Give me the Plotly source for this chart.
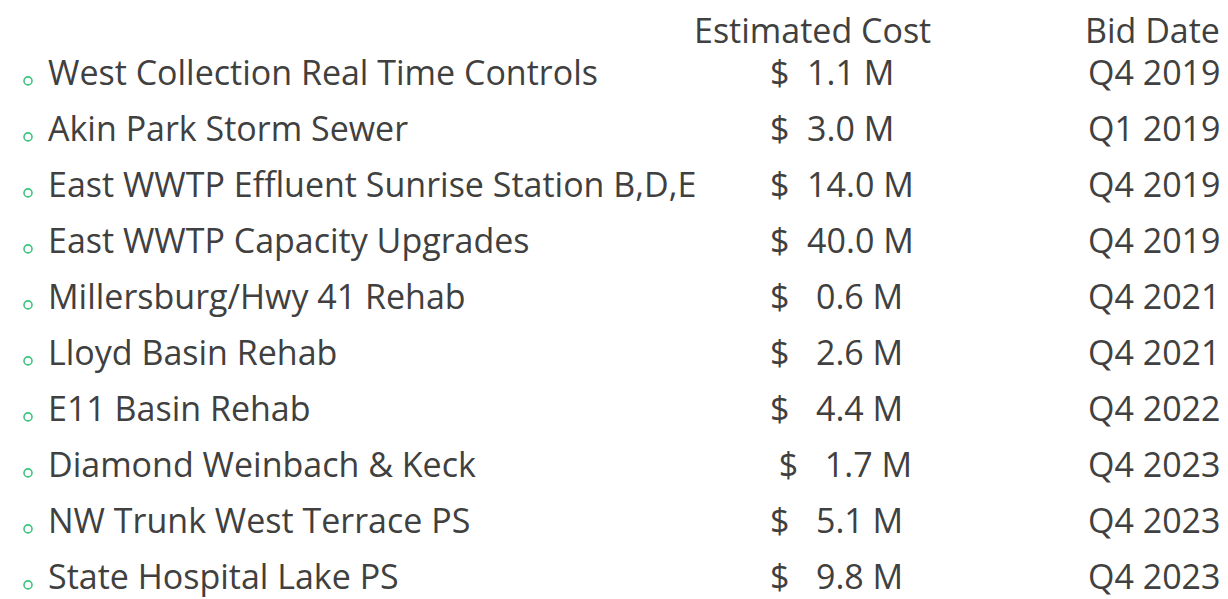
import plotly.graph_objects as go

# table content
projects = [
    "West Collection Real Time Controls",
    "Akin Park Storm Sewer",
    "East WWTP Effluent Sunrise Station B,D,E",
    "East WWTP Capacity Upgrades",
    "Millersburg/Hwy 41 Rehab",
    "Lloyd Basin Rehab",
    "E11 Basin Rehab",
    "Diamond Weinbach & Keck",
    "NW Trunk West Terrace PS",
    "State Hospital Lake PS",
]
cost_labels = [
    "$  1.1 M",
    "$  3.0 M",
    "$  14.0 M",
    "$  40.0 M",
    "$   0.6 M",
    "$   2.6 M",
    "$   4.4 M",
    " $   1.7 M",
    "$   5.1 M",
    "$   9.8 M",
]
bid_dates = [
    "Q4 2019", "Q1 2019", "Q4 2019", "Q4 2019", "Q4 2021",
    "Q4 2021", "Q4 2022", "Q4 2023", "Q4 2023", "Q4 2023",
]
headers = ["Estimated Cost", "Bid Date"]

W, H = 1228, 599
TEXT = "#404040"
GREEN = "#3cc47c"
FONT = "Open Sans, Calibri, sans-serif"
SIZE = 34

rows = list(range(1, len(projects) + 1))


def nb(s):
    # keep the slide's spacing (svg would collapse plain spaces)
    return s.replace(" ", "\u00a0")


def text_col(x, y, labels):
    return go.Scatter(
        x=[x] * len(y), y=y, mode="text", text=labels,
        textposition="middle right",
        textfont=dict(family=FONT, size=SIZE, color=TEXT),
        cliponaxis=False, hoverinfo="skip",
    )


fig = go.Figure()

# bullets
fig.add_trace(go.Scatter(
    x=[20] * len(rows), y=[r + 0.075 for r in rows], mode="markers",
    marker=dict(symbol="circle-open", size=8, color=GREEN, line=dict(width=1.6)),
    hoverinfo="skip",
))

fig.add_trace(text_col(40, rows, projects))
fig.add_trace(text_col(762, rows, [nb(c) for c in cost_labels]))
fig.add_trace(text_col(1080, rows, bid_dates))

# column headers
fig.add_trace(text_col(686, [0.25], headers[:1]))
fig.add_trace(text_col(1077, [0.25], headers[1:]))

px_per_row = 56.0
top = -12.7 / px_per_row
fig.update_layout(
    width=W, height=H,
    margin=dict(l=0, r=0, t=0, b=0),
    paper_bgcolor="white", plot_bgcolor="white",
    showlegend=False,
    xaxis=dict(range=[0, W], visible=False, fixedrange=True),
    yaxis=dict(range=[top + H / px_per_row, top], visible=False, fixedrange=True),
)

fig.write_html("out.html", config={"displayModeBar": False})
